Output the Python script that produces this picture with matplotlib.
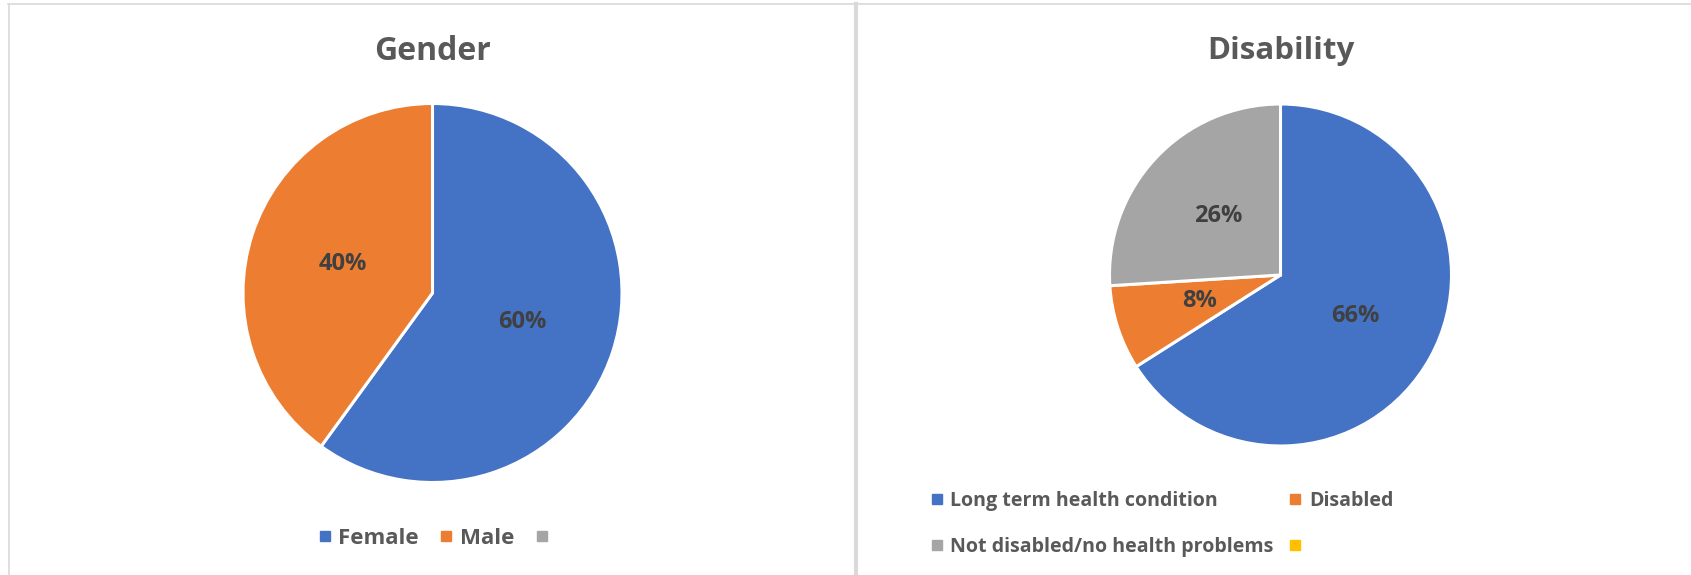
import matplotlib
matplotlib.use("Agg")
import matplotlib.pyplot as plt
from matplotlib.lines import Line2D

# ---- data ----
gender_labels = ["Female", "Male", ""]
gender_values = [60, 40, 0]
disability_labels = ["Long term health condition", "Disabled",
                     "Not disabled/no health problems", ""]
disability_values = [66, 8, 26, 0]
colors = ["#4472C4", "#ED7D31", "#A5A5A5", "#FFC000"]

W, H = 1691, 575
DPI = 100
FONT = "Open Sans"
TXT = "#595959"
LBL = "#404040"

fig = plt.figure(figsize=(W / DPI, H / DPI), dpi=DPI)
fig.patch.set_facecolor("white")


def fx(x):
    return x / W


def fy(y):
    return 1 - y / H


def pie_axes(cx, cy, r):
    return fig.add_axes([fx(cx - r), fy(cy + r), 2 * r / W, 2 * r / H])


def draw_pie(ax, values, cols, pctdist):
    vals = [v for v in values if v > 0]
    cs = [c for v, c in zip(values, cols) if v > 0]
    wedges, texts, autotexts = ax.pie(
        vals, colors=cs, startangle=90, counterclock=False, radius=1,
        autopct=lambda p: f"{p:.0f}%", pctdistance=pctdist,
        wedgeprops=dict(edgecolor="white", linewidth=2.2),
        textprops=dict(color=LBL, fontsize=17, fontweight="bold", family=FONT))
    ax.set_xlim(-1, 1)
    ax.set_ylim(-1, 1)
    ax.set_aspect("equal")
    ax.axis("off")
    return autotexts


# ---- Gender ----
ax1 = pie_axes(432.5, 293, 189.5)
draw_pie(ax1, gender_values, colors, 0.5)
fig.text(fx(432.5), fy(51), "Gender", ha="center", va="center",
         fontsize=23, fontweight="bold", color=TXT, family=FONT)

h1 = [Line2D([], [], marker="s", linestyle="none", markersize=7.5,
             markerfacecolor=c, markeredgecolor=c)
      for c in colors[:len(gender_labels)]]
fig.legend(h1, gender_labels, loc="center", ncol=3,
           bbox_to_anchor=(fx(437), fy(538)), frameon=False,
           prop=dict(family=FONT, size=16, weight="bold"), labelcolor=TXT,
           handlelength=0.55, handletextpad=0.35, columnspacing=0.95)

# ---- Disability ----
ax2 = pie_axes(1280.5, 275, 171)
draw_pie(ax2, disability_values, colors, 0.5)
fig.text(fx(1280.5), fy(51), "Disability", ha="center", va="center",
         fontsize=22.5, fontweight="bold", color=TXT, family=FONT)

h2 = [Line2D([], [], marker="s", linestyle="none", markersize=7,
             markerfacecolor=c, markeredgecolor=c) for c in colors]
order = [0, 2, 1, 3]
fig.legend([h2[i] for i in order], [disability_labels[i] for i in order],
           loc="upper left", ncol=2, bbox_to_anchor=(fx(913), fy(473)),
           frameon=False, prop=dict(family=FONT, size=14.1, weight="bold"),
           labelcolor=TXT, handlelength=0.6, handletextpad=0.4,
           columnspacing=0.8, labelspacing=1.35)

# ---- chart borders ----
bc = "#D9D9D9"
fig.add_artist(Line2D([fx(8), fx(W)], [fy(3.5), fy(3.5)], color=bc, lw=1.2))
fig.add_artist(Line2D([fx(8.5), fx(8.5)], [fy(3.5), fy(H)], color=bc, lw=1.2))
fig.add_artist(Line2D([fx(856), fx(856)], [fy(3.5), fy(H)], color=bc, lw=3))

fig.savefig("out.png", dpi=DPI, facecolor="white")
